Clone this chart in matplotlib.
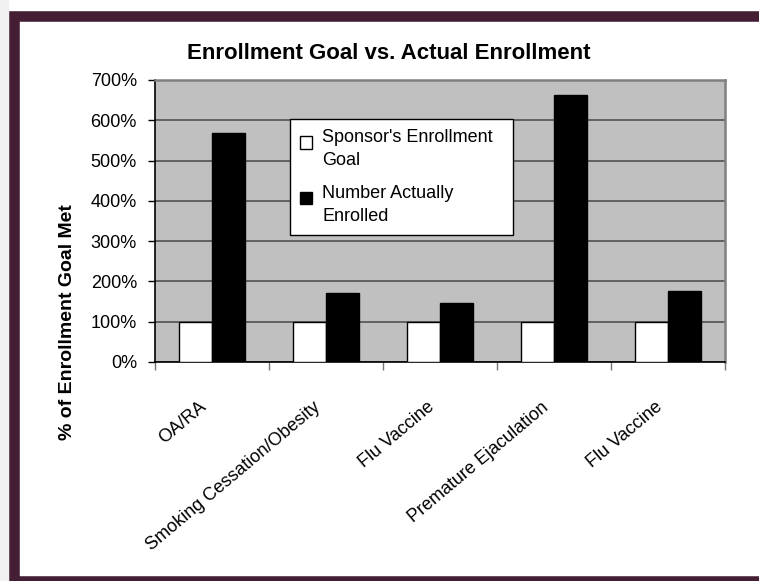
import numpy as np
import matplotlib
matplotlib.use('Agg')
import matplotlib.pyplot as plt
import matplotlib.transforms as mtransforms
from matplotlib.patches import Rectangle, Patch
from matplotlib.legend_handler import HandlerBase

plt.rcParams['font.family'] = ['Liberation Sans', 'DejaVu Sans']

categories = ['OA/RA', 'Smoking Cessation/Obesity', 'Flu Vaccine',
              'Premature Ejaculation', 'Flu Vaccine']
goal = [100, 100, 100, 100, 100]
actual = [568, 172, 147, 662, 176]
yticks = [0, 100, 200, 300, 400, 500, 600, 700]
series_names = ["Sponsor's Enrollment\nGoal", "Number Actually\nEnrolled"]

W, H = 759, 581
fig = plt.figure(figsize=(W / 100, H / 100), dpi=100)
fig.patch.set_facecolor('white')

# light strip left of frame + purple frame
fig.patches.append(Rectangle((0, 0), 9 / W, 1, transform=fig.transFigure,
                             facecolor='#f1f1f1', edgecolor='none', zorder=0))
fig.patches.append(Rectangle((14 / W, 0.5 / H), 1, (581 - 0.5 - 15.5) / H,
                             transform=fig.transFigure, fill=False,
                             edgecolor='#431e35', linewidth=7.6, zorder=1))

ax = fig.add_axes([155 / W, 1 - 362 / H, 570 / W, 282 / H])
ax.set_facecolor('#c0c0c0')

x = np.arange(len(categories))
bw = 0.29
ax.bar(x - bw / 2, goal, bw, color='white', edgecolor='black', linewidth=1, zorder=3)
ax.bar(x + bw / 2, actual, bw, color='black', edgecolor='black', linewidth=1, zorder=3)

ax.set_xlim(-0.5, len(categories) - 0.5)
ax.set_ylim(0, 700)
ax.set_yticks(yticks)
ax.set_yticklabels([f'{v}%' for v in yticks], fontsize=13)
ax.tick_params(axis='y', direction='out', length=5, width=1, color='black', pad=8)
ax.yaxis.grid(True, color='#5a5a5a', linewidth=1.3, zorder=1)
ax.set_axisbelow(True)

ax.set_xticks(x)
ax.set_xticklabels(categories, fontsize=13, rotation=40, ha='right',
                   rotation_mode='anchor', va='center')
ax.tick_params(axis='x', length=0, pad=31)
off = mtransforms.ScaledTranslation(-8 / 100, 0, fig.dpi_scale_trans)
for lab in ax.get_xticklabels():
    lab.set_transform(lab.get_transform() + off)
ax.set_xticks(np.arange(-0.5, len(categories)), minor=True)
ax.tick_params(axis='x', which='minor', direction='out', length=6, width=1, color='#777777')

for s in ['top', 'right']:
    ax.spines[s].set_color('#808080')
    ax.spines[s].set_linewidth(1.8)
for s in ['left', 'bottom']:
    ax.spines[s].set_color('black')
    ax.spines[s].set_linewidth(1.2)

fig.text(389 / W, 1 - 53.5 / H, 'Enrollment Goal vs. Actual Enrollment',
         ha='center', va='center', fontsize=16, fontweight='bold')
fig.text(68 / W, 1 - 322 / H, '% of Enrollment Goal Met', rotation=90,
         ha='center', va='center', fontsize=14, fontweight='bold')


class TopSquare(HandlerBase):
    # small square aligned with the first line of a two-line label
    def create_artists(self, legend, orig_handle, xdescent, ydescent,
                       width, height, fontsize, trans):
        s = fontsize * 0.68
        r = Rectangle((-xdescent, -ydescent + height - s - fontsize * 0.12), s, s,
                      facecolor=orig_handle.get_facecolor(),
                      edgecolor='black', linewidth=1, transform=trans)
        return [r]


handles = [Patch(facecolor='white', edgecolor='black'),
           Patch(facecolor='black', edgecolor='black')]
leg = fig.legend(handles, series_names, loc='upper left',
                 bbox_to_anchor=(290 / W, 1 - 231 / H, 223 / W, 112 / H),
                 bbox_transform=fig.transFigure, mode='expand',
                 fontsize=13, frameon=True, fancybox=False, framealpha=1,
                 edgecolor='black', handlelength=0.75, handleheight=2.35,
                 handletextpad=0.5, borderpad=0.55, labelspacing=0.85,
                 borderaxespad=0, handler_map={Patch: TopSquare()})
leg.get_frame().set_linewidth(1)
for t in leg.get_texts():
    t.set_linespacing(1.5)

fig.savefig('out.png', dpi=100)
